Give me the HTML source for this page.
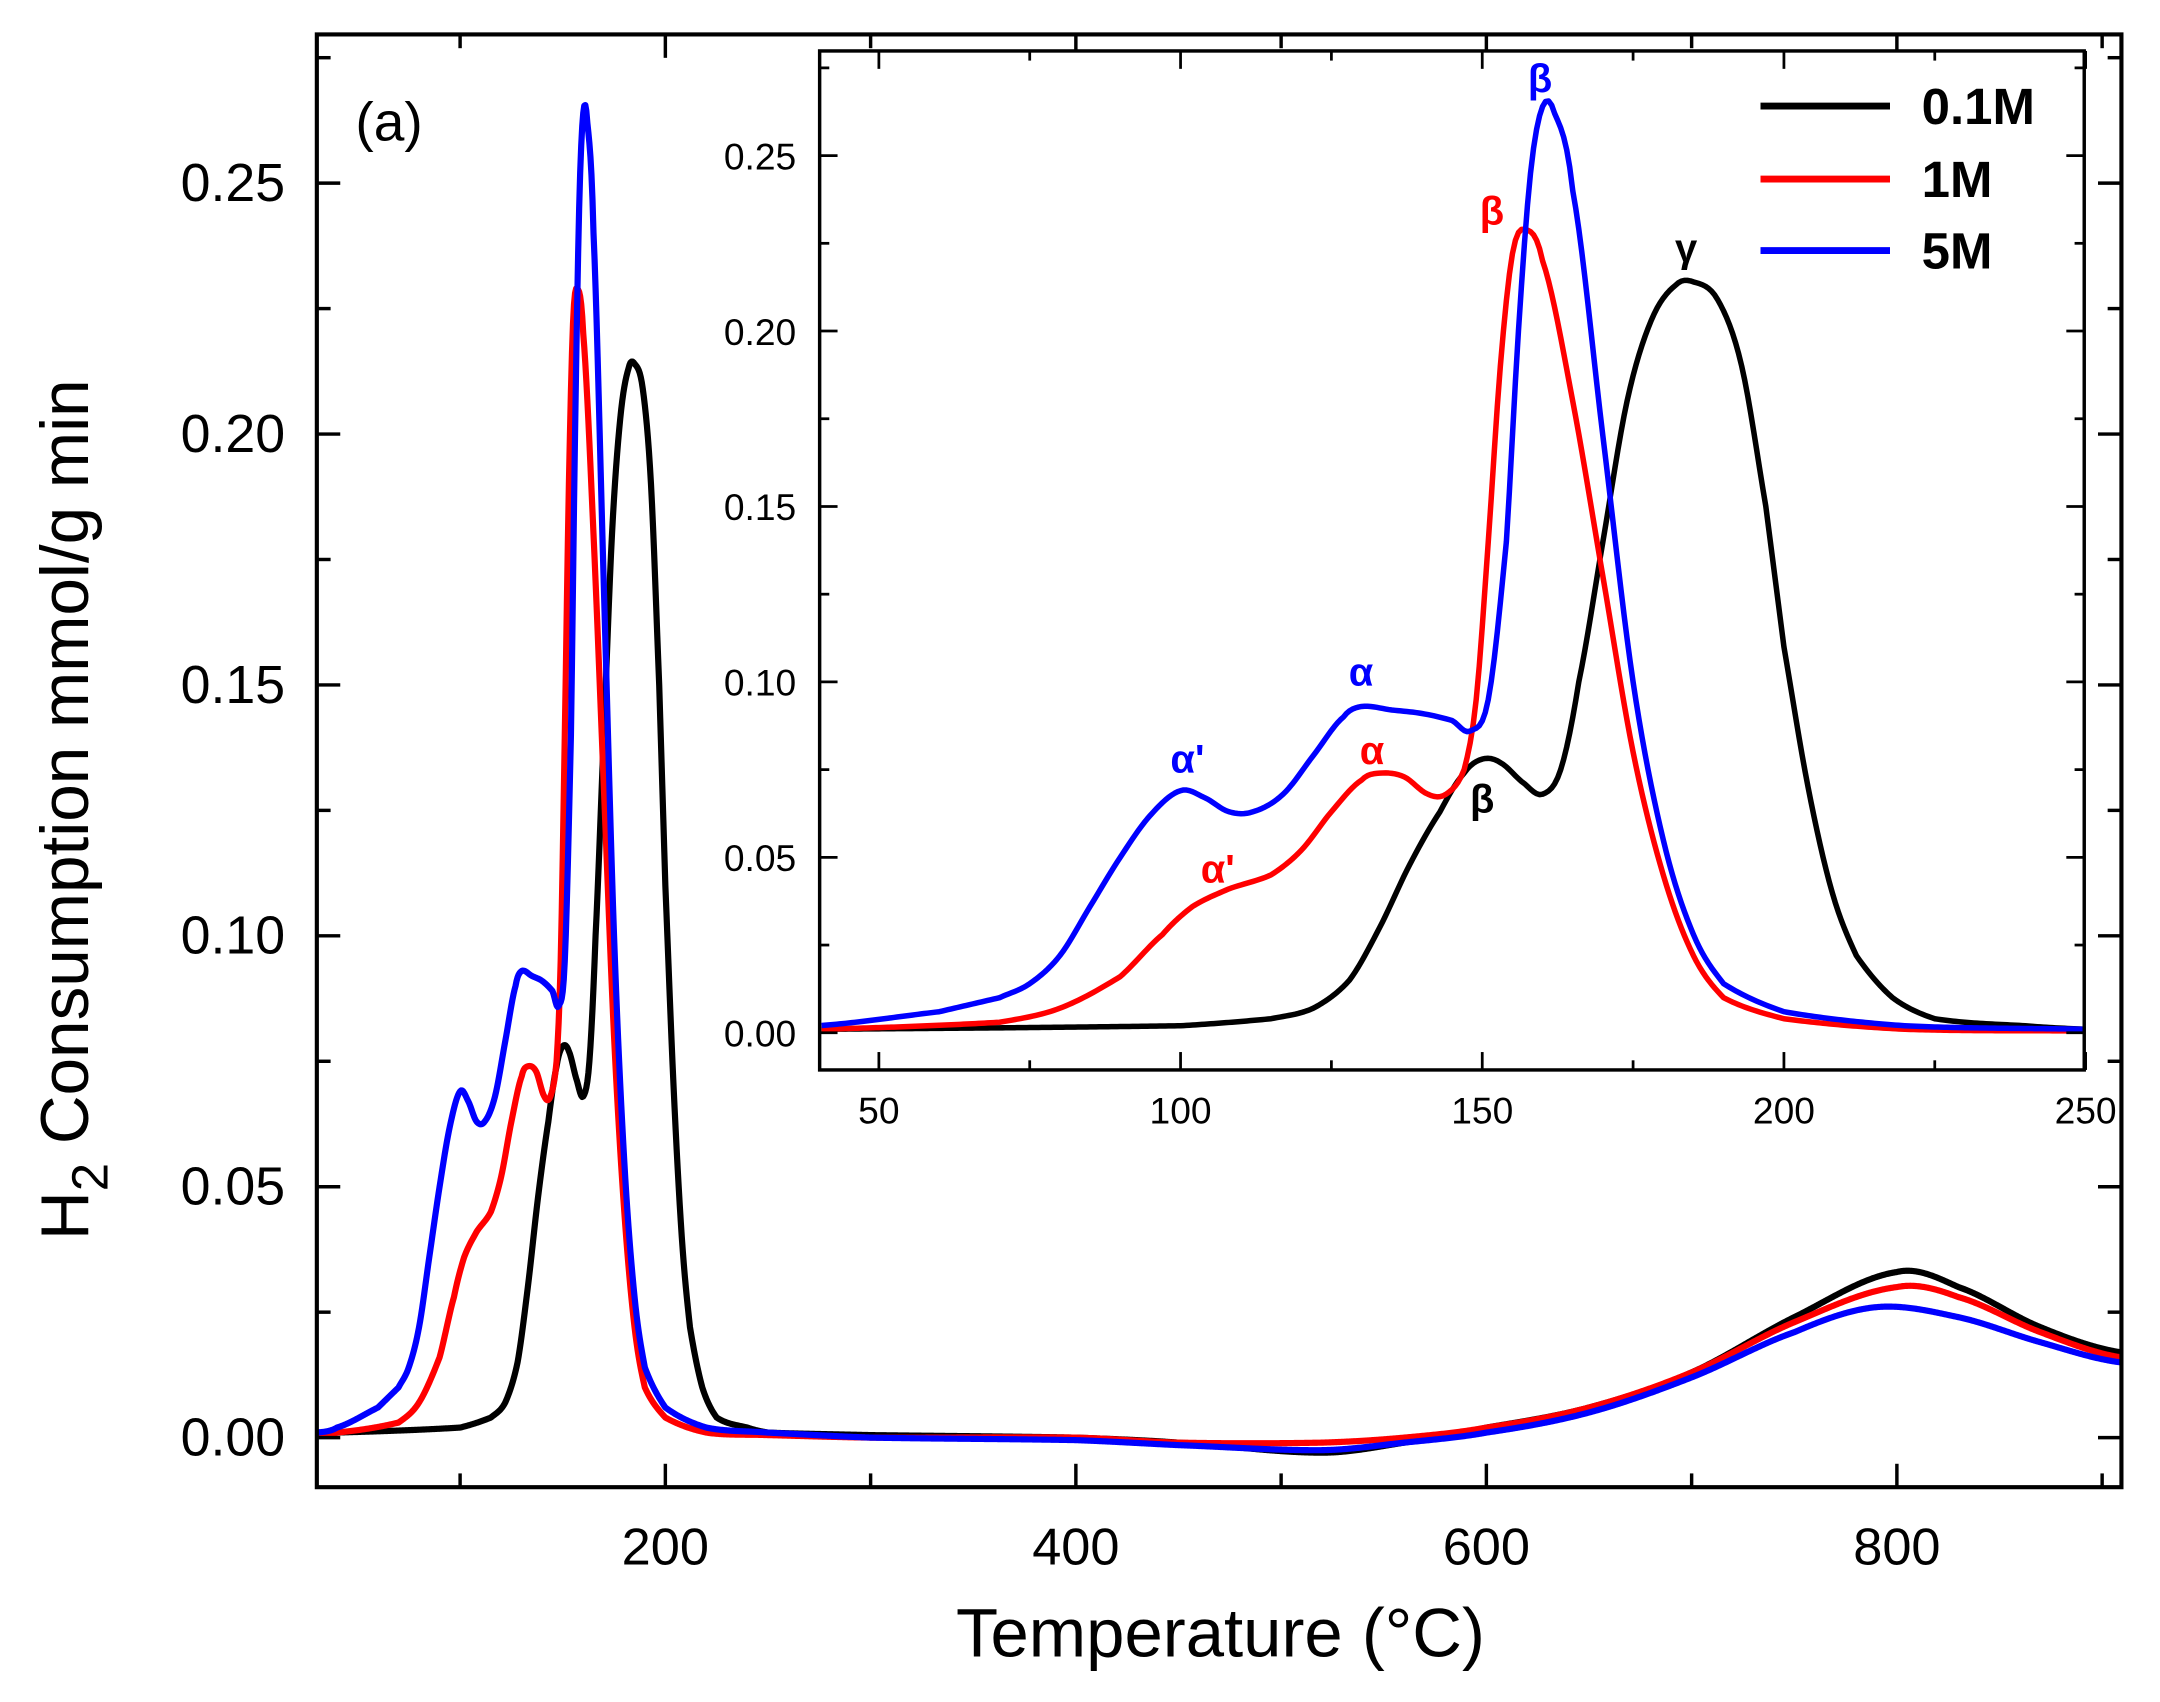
<!DOCTYPE html>
<html><head><meta charset="utf-8"><style>html,body{margin:0;padding:0;background:#fff}svg{display:block}text{font-family:"Liberation Sans",sans-serif}</style></head>
<body>
<svg id="s" width="2160" height="1702" viewBox="0 0 1568 1236" preserveAspectRatio="none" xmlns="http://www.w3.org/2000/svg">
<g id="main"></g>
</svg>
<script>
var NS="http://www.w3.org/2000/svg",S=document.getElementById('main');
function el(t,a,txt){var e=document.createElementNS(NS,t);for(var k in a)e.setAttribute(k,a[k]);if(txt!=null)e.textContent=txt;S.appendChild(e);return e;}
var blk=[[30,0.0005],[40,0.001],[100,0.002],[115,0.004],[122,0.007],[128,0.015],[133,0.03],[138,0.048],[143,0.063],[147,0.074],[150,0.078],[153,0.077],[157,0.071],[160,0.068],[163,0.075],[166,0.1],[170,0.14],[174,0.18],[178,0.203],[182,0.213],[185,0.214],[189,0.209],[193,0.19],[197,0.15],[200,0.11],[204,0.07],[208,0.04],[212,0.022],[218,0.01],[225,0.004],[240,0.002],[250,0.001],[300,0.0005],[400,0],[450,-0.001],[520,-0.003],[560,-0.001],[600,0.002],[650,0.006],[700,0.013],[750,0.024],[800,0.033],[830,0.03],[870,0.022],[909,0.017]];
var red=[[30,0.0005],[40,0.001],[70,0.003],[80,0.007],[90,0.016],[97,0.028],[102,0.036],[108,0.041],[115,0.045],[120,0.052],[125,0.063],[130,0.072],[133,0.074],[137,0.073],[141,0.068],[144,0.068],[147,0.075],[149,0.095],[151,0.14],[153,0.19],[155,0.222],[157,0.229],[160,0.22],[165,0.18],[170,0.13],[175,0.08],[180,0.045],[185,0.022],[190,0.01],[200,0.004],[220,0.001],[250,0.0005],[300,0],[400,0],[450,-0.001],[520,-0.001],[560,0],[600,0.002],[650,0.006],[700,0.013],[750,0.023],[800,0.030],[830,0.028],[870,0.021],[909,0.016]];
var blu=[[30,0.001],[40,0.002],[60,0.006],[70,0.01],[75,0.014],[80,0.022],[85,0.036],[90,0.05],[95,0.062],[100,0.069],[104,0.067],[108,0.063],[112,0.063],[117,0.068],[122,0.079],[127,0.09],[130,0.093],[135,0.092],[140,0.091],[145,0.089],[148,0.086],[151,0.095],[154,0.14],[156,0.2],[158,0.245],[160,0.264],[162,0.262],[165,0.24],[170,0.17],[175,0.1],[180,0.055],[185,0.028],[190,0.014],[200,0.006],[220,0.002],[250,0.001],[300,0],[400,-0.0005],[450,-0.0015],[520,-0.0025],[560,-0.001],[600,0.001],[650,0.005],[700,0.012],[750,0.021],[790,0.026],[830,0.024],[870,0.019],[909,0.015]];
function interp(p,t0,t1,step){var out=[];for(var i=0;i<p.length-1;i++){var a=p[Math.max(0,i-1)],b=p[i],c=p[i+1],d=p[Math.min(p.length-1,i+2)];var n=Math.max(2,Math.ceil((c[0]-b[0])/step));for(var j=0;j<n;j++){var t=j/n,t2=t*t,t3=t2*t;
var x=b[0]+(c[0]-b[0])*t;var y=0.5*((2*b[1])+(-a[1]+c[1])*t+(2*a[1]-5*b[1]+4*c[1]-d[1])*t2+(-a[1]+3*b[1]-3*c[1]+d[1])*t3);if(x>=t0&&x<=t1)out.push([x,y]);}}var l=p[p.length-1];if(l[0]<=t1)out.push(l);return out;}
function path(p,fx,fy,t0,t1,col,w){var q=interp(p,t0,t1,0.5),d='';q.forEach(function(v,i){d+=(i?'L':'M')+fx(v[0]).toFixed(2)+' '+fy(v[1]).toFixed(2);});el('path',{d:d,fill:'none',stroke:col,'stroke-width':w,'stroke-linejoin':'round'});}
var mx=function(t){return 185+t*1.49},my=function(v){return 1044-v*3644};
path(blk,mx,my,30,909,'#000',4.5);path(red,mx,my,30,909,'#f00',4.5);path(blu,mx,my,30,909,'#00f',4.5);
el('rect',{x:230,y:25,width:1310,height:1055,fill:'none',stroke:'#000','stroke-width':3});
for(var t=100;t<=900;t+=100){var x=mx(t),L=t%200?10:17;el('line',{x1:x,y1:1080,x2:x,y2:1080-L,stroke:'#000','stroke-width':2.5});el('line',{x1:x,y1:25,x2:x,y2:25+L,stroke:'#000','stroke-width':2.5});if(t%200==0)el('text',{x:x,y:1136,'font-size':38,'text-anchor':'middle'},t);}
for(var i=0;i<=11;i++){var v=i*0.025,y=my(v),L=i%2?10:17;el('line',{x1:230,y1:y,x2:230+L,y2:y,stroke:'#000','stroke-width':2.5});el('line',{x1:1540,y1:y,x2:1540-L,y2:y,stroke:'#000','stroke-width':2.5});if(i%2==0)el('text',{x:207,y:y+13,'font-size':39,'text-anchor':'end'},v.toFixed(2));}
el('text',{x:886,y:1203,'font-size':50,'text-anchor':'middle'},'Temperature (°C)');
var yl=el('text',{transform:'translate(64,588) rotate(-90)','font-size':49,'text-anchor':'middle'});yl.innerHTML='H<tspan dy="14" font-size="37">2</tspan><tspan dy="-14"> Consumption mmol/g min</tspan>';
el('text',{x:258,y:102,'font-size':40},'(a)');
el('rect',{x:595,y:37,width:918,height:740,fill:'#fff',stroke:'none'});
var ix=function(t){return 638+(t-50)*4.38},iy=function(v){return 750-v*2548};
path(blk,ix,iy,40.2,250,'#000',4);path(red,ix,iy,40.2,250,'#f00',4);path(blu,ix,iy,40.2,250,'#00f',4);
el('rect',{x:595,y:37,width:918,height:740,fill:'none',stroke:'#000','stroke-width':2.5});
for(var t=50;t<=250;t+=25){var x=ix(t),L=t%50?7:13;el('line',{x1:x,y1:777,x2:x,y2:777-L,stroke:'#000','stroke-width':2});el('line',{x1:x,y1:37,x2:x,y2:37+L,stroke:'#000','stroke-width':2});if(t%50==0)el('text',{x:x,y:816,'font-size':27,'text-anchor':'middle'},t);}
for(var i=0;i<=11;i++){var v=i*0.025,y=iy(v),L=i%2?7:13;el('line',{x1:595,y1:y,x2:595+L,y2:y,stroke:'#000','stroke-width':2});el('line',{x1:1513,y1:y,x2:1513-L,y2:y,stroke:'#000','stroke-width':2});if(i%2==0)el('text',{x:578,y:y+10,'font-size':27,'text-anchor':'end'},v.toFixed(2));}
[['β',1118,67,'#00f'],['β',1083,163,'#f00'],['γ',1224,190,'#000'],['α',988,498,'#00f'],["α'",862,561,'#00f'],['α',996,555,'#f00'],["α'",884,641,'#f00'],['β',1076,590,'#000']].forEach(function(a){el('text',{x:a[1],y:a[2],'font-size':29,'font-weight':'bold','text-anchor':'middle',fill:a[3]},a[0]);});
[['0.1M','#000',77],['1M','#f00',130],['5M','#00f',182]].forEach(function(a){el('line',{x1:1278,y1:a[2],x2:1372,y2:a[2],stroke:a[1],'stroke-width':5});el('text',{x:1395,y:a[2]+13,'font-size':37,'font-weight':'bold'},a[0]);});
</script>
</body></html>
